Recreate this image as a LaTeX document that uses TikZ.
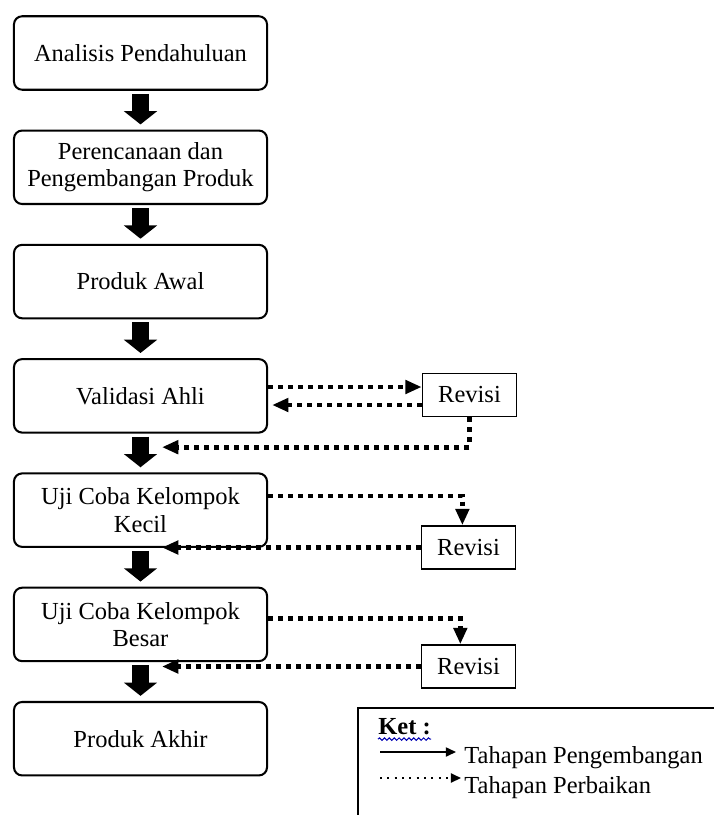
\documentclass[tikz,border=0pt]{standalone}
\usepackage{fontspec}
\setmainfont{Liberation Serif}
\usetikzlibrary{positioning,arrows.meta,calc,decorations.pathmorphing}

\begin{document}
\begin{tikzpicture}[
  x=0.49pt, y=-0.49pt,
  node distance=19pt,
  stage/.style={draw,line width=1pt,rounded corners=4pt,minimum width=124pt,minimum height=36pt,align=center,font=\fontsize{12}{13.5}\selectfont,inner sep=2pt},
  revisi/.style={draw,line width=0.9pt,minimum width=46pt,minimum height=21pt,font=\fontsize{12}{13.5}\selectfont},
  maju/.style={line width=8.8pt,-{Triangle[width=16pt,length=6.5pt]},shorten <=1.5pt,shorten >=2.5pt},
  balik/.style={line width=2.3pt,dash pattern=on 2.4pt off 2.5pt,-{Triangle[width=6.5pt,length=8pt]}},
  ket/.style={font=\fontsize{12}{13.5}\selectfont,inner sep=0pt},
]
\useasboundingbox (0,0) rectangle (714,815);

% alur pengembangan
\node[stage] (v1) at (140.5,53) {Analisis Pendahuluan};
\node[stage,below=of v1] (v2) {Perencanaan dan\\Pengembangan Produk};
\node[stage,below=of v2] (v3) {Produk Awal};
\node[stage,below=of v3] (v4) {Validasi Ahli};
\node[stage,below=of v4] (v5) {Uji Coba Kelompok\\Kecil};
\node[stage,below=of v5] (v6) {Uji Coba Kelompok\\Besar};
\node[stage,below=of v6] (v7) {Produk Akhir};

\draw[maju] (v1) -- (v2);
\draw[maju] (v2) -- (v3);
\draw[maju] (v3) -- (v4);
\draw[maju] (v4) -- (v5);
\draw[maju] (v5) -- (v6);
\draw[maju] (v6) -- (v7);

% revisi
\node[revisi] (r1) at (469.5,395) {Revisi};
\node[revisi] (r2) at (468.5,547.5) {Revisi};
\node[revisi] (r3) at (468.5,666.5) {Revisi};

\coordinate (r1a) at ($(r1.west)+(0,-8)$);
\coordinate (r1b) at ($(r1.west)+(0,10)$);
\draw[balik] (v4.east |- r1a) -- (r1a);
\draw[balik,shorten >=2pt] (r1b) -- (v4.east |- r1b);
\coordinate (t45) at ($(v4.south)!0.35!(v5.north)+(21.5,0)$);
\draw[balik] (r1.south) |- (t45);

\draw[balik] ([yshift=7pt]v5.east) -| ([xshift=-3pt]r2.north);
\coordinate (t56) at ($(v5.south)+(21.5,0)$);
\draw[balik] (r2.west) -- (r2.west -| t56);

\draw[balik] ([yshift=3pt]v6.east) -| ([xshift=-4pt]r3.north);
\coordinate (t67) at ($(v6.south)+(21.5,0)$);
\draw[balik] (r3.west) -- (r3.west -| t67);

% keterangan
\draw[line width=0.8pt] (358,815) -- (358,708) -- (714,708);
\node[ket,anchor=base west] (k0) at (378,734) {\bfseries Ket :};
\draw[blue!70!black,line width=0.5pt,decorate,decoration={snake,amplitude=0.6pt,segment length=2.4pt}]
  ([yshift=-2.5pt]k0.base west) -- ([yshift=-2.5pt]k0.base east);
\coordinate (k1a) at (380,752);
\coordinate (k1b) at (456,752);
\coordinate (k2a) at (380,778);
\coordinate (k2b) at (461,778);
\node[ket,anchor=base west] (k1) at (464,763) {Tahapan Pengembangan};
\node[ket,anchor=base west] (k2) at (464,793) {Tahapan Perbaikan};
\draw[line width=0.8pt,-{Triangle[width=4.5pt,length=5pt]}] (k1a) -- (k1b);
\draw[line width=1pt,dash pattern=on 1pt off 2.6pt,-{Triangle[width=4.5pt,length=5pt]}] (k2a) -- (k2b);
\end{tikzpicture}
\end{document}
